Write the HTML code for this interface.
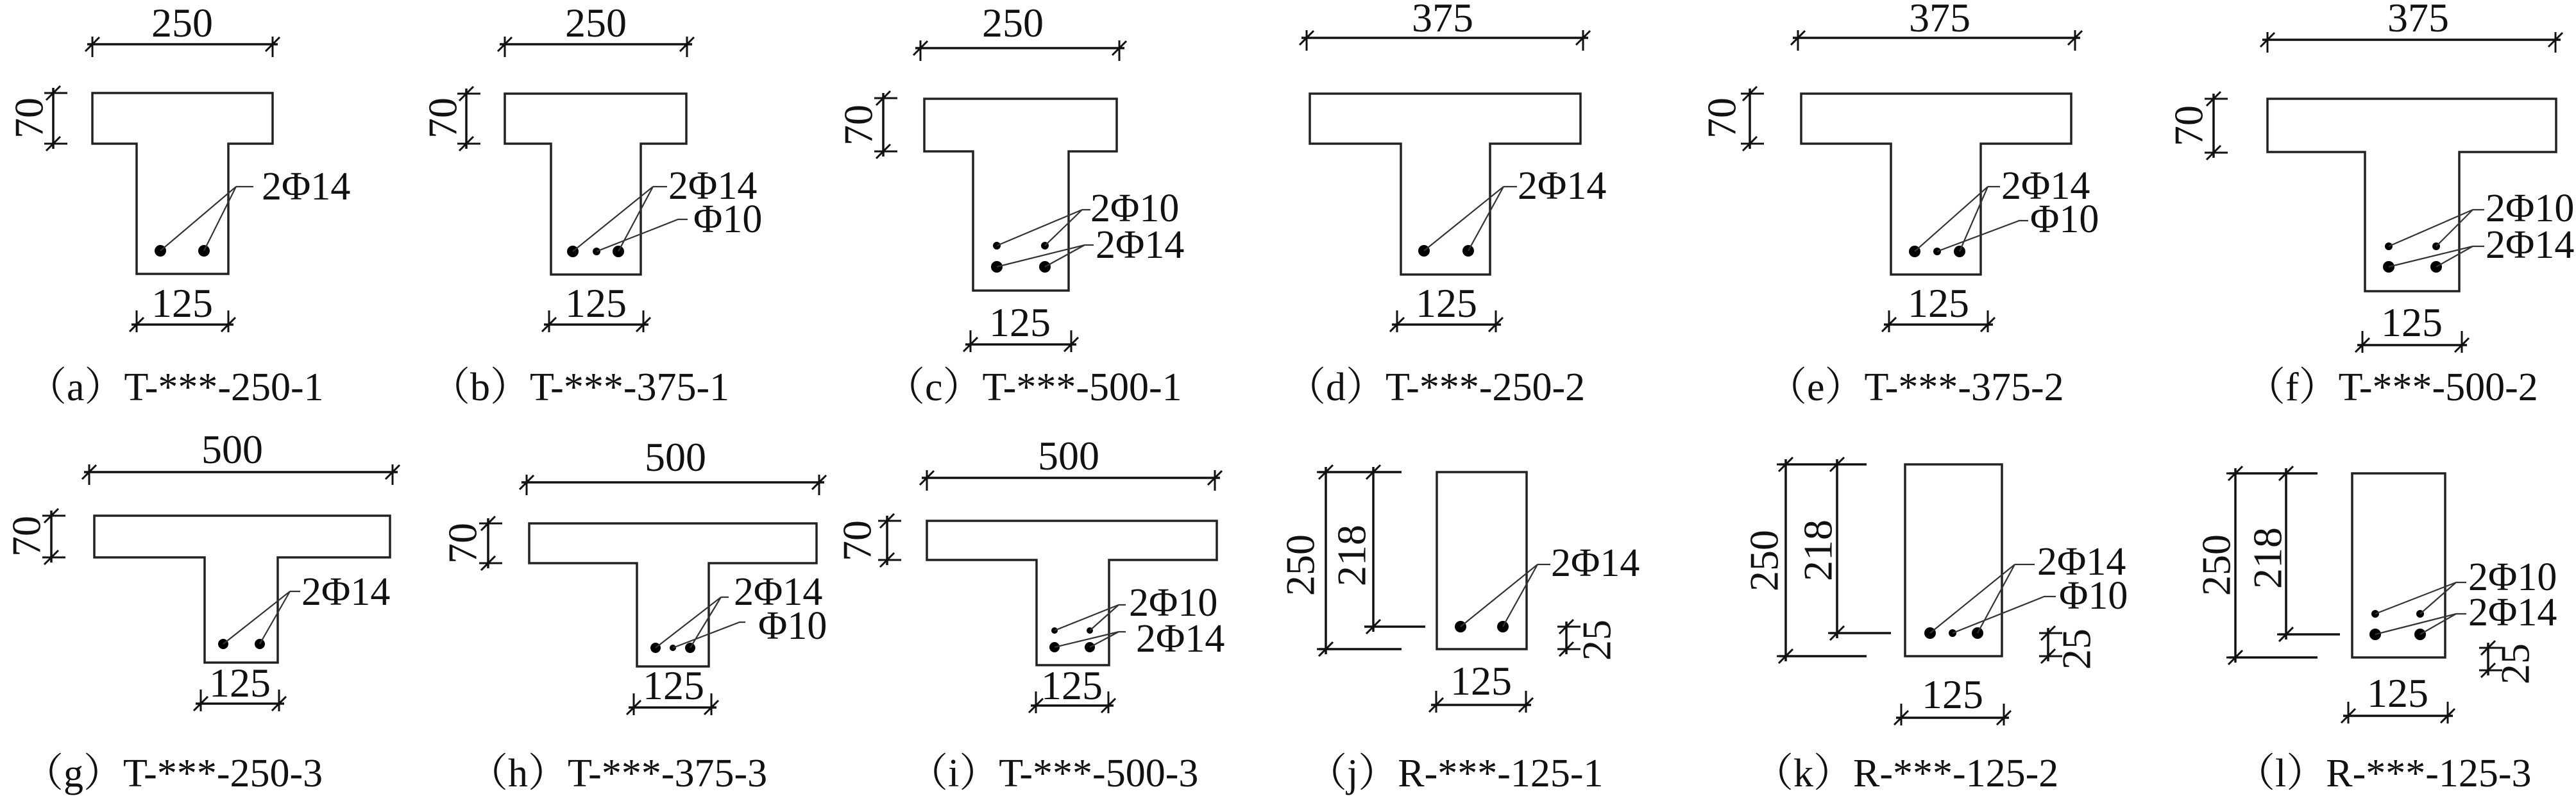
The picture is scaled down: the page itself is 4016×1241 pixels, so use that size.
<!DOCTYPE html>
<html><head><meta charset="utf-8"><style>
html,body{margin:0;padding:0;background:#fff;}
svg{display:block;}
svg text{font-family:"Liberation Serif","DejaVu Serif","Noto Serif CJK SC",serif !important;fill:#111;}
.d{font-size:64px;text-anchor:middle;}
.r{font-size:62px;}
.c{font-size:62px;}
.o{fill:none;stroke:#222;stroke-width:3.5;}
.m{fill:none;stroke:#111;stroke-width:3.5;}
.l{fill:none;stroke:#333;stroke-width:2.2;}
</style></head><body>
<svg width="4016" height="1241" viewBox="0 0 4016 1241" xmlns="http://www.w3.org/2000/svg" font-family="Liberation Serif, DejaVu Serif, serif">
<defs>
<path id="tH" d="M0,-12V20M-11,11L11,-11" fill="none" stroke="#111" stroke-width="3"/>
<path id="tB" d="M0,-22V12M-11,11L11,-11" fill="none" stroke="#111" stroke-width="3"/>
<path id="tV" d="M-14,0H22M-11,11L11,-11" fill="none" stroke="#111" stroke-width="3"/>
</defs>

<!-- (a) -->
<path class="o" d="M144,145H425V224H356V427H213V224H144Z"/>
<path class="m" d="M136,69H433"/><use href="#tH" x="144" y="69"/><use href="#tH" x="425" y="69"/>
<text class="d" x="284" y="57">250</text>
<path class="m" d="M83,137V232"/><use href="#tV" x="83" y="145"/><use href="#tV" x="83" y="224"/>
<text class="d" transform="translate(45,184) rotate(-90)" dominant-baseline="central">70</text>
<circle cx="250" cy="391" r="9"/><circle cx="318" cy="391" r="9"/>
<path class="l" d="M250,391L368,291L318,391M368,291H395"/>
<text class="r" x="408" y="311">2Φ14</text>
<path class="m" d="M205,506H364"/><use href="#tB" x="213" y="506"/><use href="#tB" x="356" y="506"/>
<text class="d" x="284" y="494">125</text>
<text class="c" x="42" y="624">（a）T-***-250-1</text>

<!-- (b) -->
<path class="o" d="M787,146H1070V224H999V428H859V224H787Z"/>
<path class="m" d="M779,69H1079"/><use href="#tH" x="787" y="69"/><use href="#tH" x="1071" y="69"/>
<text class="d" x="929" y="57">250</text>
<path class="m" d="M727,138V232"/><use href="#tV" x="727" y="146"/><use href="#tV" x="727" y="224"/>
<text class="d" transform="translate(690,184) rotate(-90)" dominant-baseline="central">70</text>
<circle cx="893" cy="392" r="9"/><circle cx="930" cy="392" r="6"/><circle cx="964" cy="392" r="9"/>
<path class="l" d="M893,392L1018,291L964,392M1018,291H1040M930,392L1057,342H1072"/>
<text class="r" x="1042" y="310">2Φ14</text>
<text class="r" x="1081" y="362">Φ10</text>
<path class="m" d="M848,506H1011"/><use href="#tB" x="856" y="506"/><use href="#tB" x="1003" y="506"/>
<text class="d" x="929" y="494">125</text>
<text class="c" x="671" y="624">（b）T-***-375-1</text>

<!-- (c) -->
<path class="o" d="M1441,154H1741V236H1666V453H1517V236H1441Z"/>
<path class="m" d="M1427,75H1753"/><use href="#tH" x="1435" y="75"/><use href="#tH" x="1745" y="75"/>
<text class="d" x="1579" y="57">250</text>
<path class="m" d="M1377,145V244"/><use href="#tV" x="1377" y="153"/><use href="#tV" x="1377" y="236"/>
<text class="d" transform="translate(1338,195) rotate(-90)" dominant-baseline="central">70</text>
<circle cx="1554" cy="383" r="6"/><circle cx="1629" cy="383" r="6"/><circle cx="1554" cy="416" r="9"/><circle cx="1629" cy="416" r="9"/>
<path class="l" d="M1554,383L1687,327L1629,383M1687,327H1700M1554,416L1691,382L1629,416M1691,382H1705"/>
<text class="r" x="1700" y="345">2Φ10</text>
<text class="r" x="1708" y="402">2Φ14</text>
<path class="m" d="M1505,537H1678"/><use href="#tB" x="1513" y="537"/><use href="#tB" x="1670" y="537"/>
<text class="d" x="1590" y="524">125</text>
<text class="c" x="1380" y="624">（c）T-***-500-1</text>

<!-- (d) -->
<path class="o" d="M2042,146H2464V224H2323V428H2184V224H2042Z"/>
<path class="m" d="M2029,59H2476"/><use href="#tH" x="2037" y="59"/><use href="#tH" x="2468" y="59"/>
<text class="d" x="2249" y="49">375</text>
<circle cx="2220" cy="391" r="9"/><circle cx="2289" cy="391" r="9"/>
<path class="l" d="M2220,391L2344,291L2289,391M2344,291H2365"/>
<text class="r" x="2366" y="310">2Φ14</text>
<path class="m" d="M2170,506H2340"/><use href="#tB" x="2178" y="506"/><use href="#tB" x="2332" y="506"/>
<text class="d" x="2255" y="494">125</text>
<text class="c" x="2005" y="624">（d）T-***-250-2</text>

<!-- (e) -->
<path class="o" d="M2808,146H3229V224H3088V428H2948V224H2808Z"/>
<path class="m" d="M2795,59H3243"/><use href="#tH" x="2803" y="59"/><use href="#tH" x="3235" y="59"/>
<text class="d" x="3024" y="49">375</text>
<path class="m" d="M2728,138V232"/><use href="#tV" x="2728" y="146"/><use href="#tV" x="2728" y="224"/>
<text class="d" transform="translate(2684,184) rotate(-90)" dominant-baseline="central">70</text>
<circle cx="2985" cy="392" r="9"/><circle cx="3020" cy="392" r="6"/><circle cx="3055" cy="392" r="9"/>
<path class="l" d="M2985,392L3099,291L3055,392M3099,291H3118M3020,392L3148,344H3162"/>
<text class="r" x="3120" y="310">2Φ14</text>
<text class="r" x="3165" y="362">Φ10</text>
<path class="m" d="M2937,506H3107"/><use href="#tB" x="2945" y="506"/><use href="#tB" x="3099" y="506"/>
<text class="d" x="3022" y="494">125</text>
<text class="c" x="2755" y="624">（e）T-***-375-2</text>

<!-- (f) -->
<path class="o" d="M3535,154H3985V237H3834V454H3687V237H3535Z"/>
<path class="m" d="M3527,62H3992"/><use href="#tH" x="3535" y="62"/><use href="#tH" x="3984" y="62"/>
<text class="d" x="3770" y="49">375</text>
<path class="m" d="M3451,146V246"/><use href="#tV" x="3451" y="154"/><use href="#tV" x="3451" y="238"/>
<text class="d" transform="translate(3412,196) rotate(-90)" dominant-baseline="central">70</text>
<circle cx="3724" cy="384" r="6"/><circle cx="3798" cy="384" r="6"/><circle cx="3724" cy="416" r="9"/><circle cx="3798" cy="416" r="9"/>
<path class="l" d="M3724,384L3855,327L3798,384M3855,327H3873M3724,416L3855,384L3798,416M3855,384H3873"/>
<text class="r" x="3875" y="345">2Φ10</text>
<text class="r" x="3875" y="402">2Φ14</text>
<path class="m" d="M3675,538H3846"/><use href="#tB" x="3683" y="538"/><use href="#tB" x="3838" y="538"/>
<text class="d" x="3760" y="524">125</text>
<text class="c" x="3501" y="624">（f）T-***-500-2</text>

<!-- (g) -->
<path class="o" d="M147,804H608V869H433V1033H319V869H147Z"/>
<path class="m" d="M131,736H620"/><use href="#tH" x="139" y="736"/><use href="#tH" x="612" y="736"/>
<text class="d" x="362" y="722">500</text>
<path class="m" d="M80,796V877"/><use href="#tV" x="80" y="804"/><use href="#tV" x="80" y="869"/>
<text class="d" transform="translate(41,836) rotate(-90)" dominant-baseline="central">70</text>
<circle cx="348" cy="1004" r="8"/><circle cx="405" cy="1004" r="8"/>
<path class="l" d="M348,1004L452,922L405,1004M452,922H468"/>
<text class="r" x="470" y="943">2Φ14</text>
<path class="m" d="M305,1097H443"/><use href="#tB" x="313" y="1097"/><use href="#tB" x="435" y="1097"/>
<text class="d" x="374" y="1086">125</text>
<text class="c" x="37" y="1226">（g）T-***-250-3</text>

<!-- (h) -->
<path class="o" d="M825,816H1273V878H1105V1039H993V878H825Z"/>
<path class="m" d="M813,752H1285"/><use href="#tH" x="821" y="752"/><use href="#tH" x="1277" y="752"/>
<text class="d" x="1053" y="734">500</text>
<path class="m" d="M761,808V886"/><use href="#tV" x="761" y="816"/><use href="#tV" x="761" y="878"/>
<text class="d" transform="translate(721,847) rotate(-90)" dominant-baseline="central">70</text>
<circle cx="1022" cy="1010" r="8"/><circle cx="1049" cy="1010" r="5"/><circle cx="1076" cy="1010" r="8"/>
<path class="l" d="M1022,1010L1124,931L1076,1010M1124,931H1136M1049,1010L1153,970H1162"/>
<text class="r" x="1144" y="943">2Φ14</text>
<text class="r" x="1182" y="996">Φ10</text>
<path class="m" d="M980,1103H1117"/><use href="#tB" x="988" y="1103"/><use href="#tB" x="1109" y="1103"/>
<text class="d" x="1050" y="1090">125</text>
<text class="c" x="730" y="1226">（h）T-***-375-3</text>

<!-- (i) -->
<path class="o" d="M1445,812H1897V873H1729V1037H1616V873H1445Z"/>
<path class="m" d="M1437,745H1902"/><use href="#tH" x="1445" y="745"/><use href="#tH" x="1894" y="745"/>
<text class="d" x="1666" y="732">500</text>
<path class="m" d="M1383,804V881"/><use href="#tV" x="1383" y="812"/><use href="#tV" x="1383" y="873"/>
<text class="d" transform="translate(1336,843) rotate(-90)" dominant-baseline="central">70</text>
<circle cx="1644" cy="983" r="5"/><circle cx="1699" cy="983" r="5"/><circle cx="1644" cy="1009" r="8"/><circle cx="1699" cy="1009" r="8"/>
<path class="l" d="M1644,983L1744,943L1699,983M1744,943H1755M1644,1009L1744,985L1699,1009M1744,985H1755"/>
<text class="r" x="1760" y="960">2Φ10</text>
<text class="r" x="1771" y="1016">2Φ14</text>
<path class="m" d="M1607,1100H1736"/><use href="#tB" x="1615" y="1100"/><use href="#tB" x="1728" y="1100"/>
<text class="d" x="1671" y="1090">125</text>
<text class="c" x="1416" y="1226">（i）T-***-500-3</text>

<!-- (j) -->
<rect class="o" x="2240" y="736" width="140" height="276"/>
<path class="m" d="M2067,728V1020M2056,736H2185M2056,1012H2185M2141,728V985M2127,977H2222"/>
<use href="#tV" x="2067" y="736"/><use href="#tV" x="2067" y="1012"/><use href="#tV" x="2141" y="736"/><use href="#tV" x="2141" y="977"/>
<text class="d" transform="translate(2027,881) rotate(-90)" dominant-baseline="central">250</text>
<text class="d" transform="translate(2107,866) rotate(-90)" dominant-baseline="central">218</text>
<circle cx="2277" cy="977" r="9"/><circle cx="2343" cy="977" r="9"/>
<path class="l" d="M2277,977L2397,880L2343,977M2397,880H2417"/>
<text class="r" x="2418" y="898">2Φ14</text>
<path class="m" d="M2442,969V1020"/><use href="#tV" x="2442" y="977"/><use href="#tV" x="2442" y="1012"/>
<text class="d" transform="translate(2489,998) rotate(-90)" dominant-baseline="central">25</text>
<path class="m" d="M2231,1099H2387"/><use href="#tB" x="2239" y="1099"/><use href="#tB" x="2379" y="1099"/>
<text class="d" x="2309" y="1083">125</text>
<text class="c" x="2038" y="1226">（j）R-***-125-1</text>

<!-- (k) -->
<rect class="o" x="2970" y="724" width="151" height="299"/>
<path class="m" d="M2784,716V1031M2774,724H2910M2774,1023H2910M2864,716V995M2853,987H2948"/>
<use href="#tV" x="2784" y="724"/><use href="#tV" x="2784" y="1023"/><use href="#tV" x="2864" y="724"/><use href="#tV" x="2864" y="987"/>
<text class="d" transform="translate(2750,874) rotate(-90)" dominant-baseline="central">250</text>
<text class="d" transform="translate(2834,858) rotate(-90)" dominant-baseline="central">218</text>
<circle cx="3009" cy="987" r="9"/><circle cx="3044" cy="987" r="6"/><circle cx="3083" cy="987" r="9"/>
<path class="l" d="M3009,987L3141,880L3083,987M3141,880H3172M3044,987L3187,930H3205"/>
<text class="r" x="3176" y="896">2Φ14</text>
<text class="r" x="3210" y="949">Φ10</text>
<path class="m" d="M3193,979V1031"/><use href="#tV" x="3193" y="987"/><use href="#tV" x="3193" y="1023"/>
<text class="d" transform="translate(3237,1012) rotate(-90)" dominant-baseline="central">25</text>
<path class="m" d="M2956,1119H3132"/><use href="#tB" x="2964" y="1119"/><use href="#tB" x="3124" y="1119"/>
<text class="d" x="3044" y="1104">125</text>
<text class="c" x="2734" y="1226">（k）R-***-125-2</text>

<!-- (l) -->
<rect class="o" x="3667" y="738" width="145" height="287"/>
<path class="m" d="M3485,730V1033M3475,738H3613M3475,1025H3613M3564,730V997M3553,989H3648"/>
<use href="#tV" x="3485" y="738"/><use href="#tV" x="3485" y="1025"/><use href="#tV" x="3564" y="738"/><use href="#tV" x="3564" y="989"/>
<text class="d" transform="translate(3455,881) rotate(-90)" dominant-baseline="central">250</text>
<text class="d" transform="translate(3535,870) rotate(-90)" dominant-baseline="central">218</text>
<circle cx="3703" cy="957" r="6"/><circle cx="3773" cy="957" r="6"/><circle cx="3703" cy="989" r="9"/><circle cx="3773" cy="989" r="9"/>
<path class="l" d="M3703,957L3829,908L3773,957M3829,908H3845M3703,989L3829,957L3773,989M3829,957H3845"/>
<text class="r" x="3848" y="920">2Φ10</text>
<text class="r" x="3848" y="975">2Φ14</text>
<path class="m" d="M3879,1002V1053"/><use href="#tV" x="3879" y="1010"/><use href="#tV" x="3879" y="1045"/>
<text class="d" transform="translate(3921,1035) rotate(-90)" dominant-baseline="central">25</text>
<path class="m" d="M3653,1116H3824"/><use href="#tB" x="3661" y="1116"/><use href="#tB" x="3816" y="1116"/>
<text class="d" x="3738" y="1102">125</text>
<text class="c" x="3485" y="1226">（l）R-***-125-3</text>
</svg>
</body></html>
